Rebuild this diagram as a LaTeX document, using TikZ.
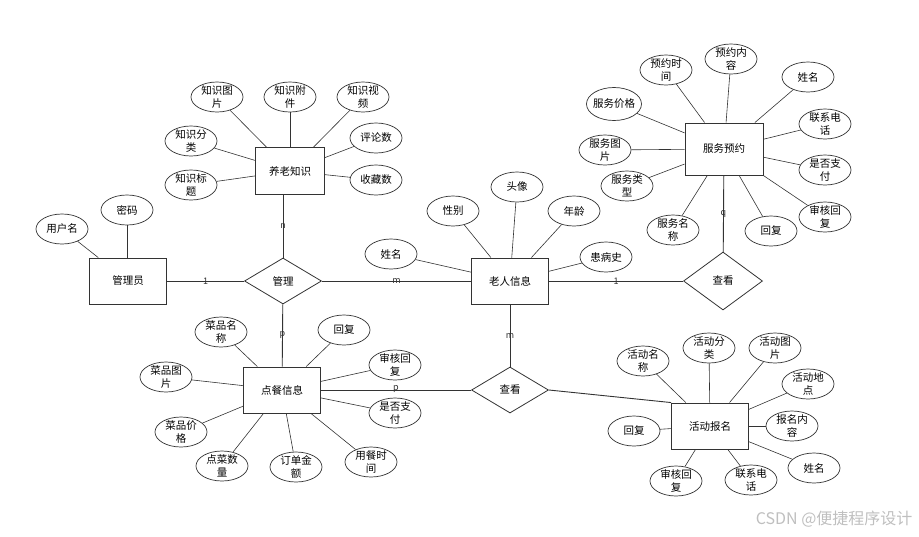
\documentclass[tikz,border=0pt]{standalone}
\usepackage{fontspec}
\setmainfont{Noto Sans CJK SC}
\usetikzlibrary{shapes.geometric}

\begin{document}
\begin{tikzpicture}[x=1pt, y=-1pt,
    font=\fontsize{10.5}{13}\selectfont,
    entity/.style={draw=black!80, line width=0.9pt, rectangle, minimum width=77pt, minimum height=46pt, inner sep=0pt},
    rel/.style={draw=black!80, line width=0.8pt, diamond, minimum width=77pt, minimum height=46pt, inner sep=0pt},
    attr/.style={draw=black!80, line width=0.7pt, ellipse, minimum width=52pt, minimum height=30pt, inner xsep=-6pt, inner ysep=-5pt, align=center},
    link/.style={black!80, line width=0.9pt},
    tie/.style={black!80, line width=0.6pt},
    card/.style={font=\fontsize{9}{10}\selectfont, inner sep=1pt}]
    \useasboundingbox (0,0) rectangle (919,536);

    % entities and relations
    \node[entity] (admin) at (128,281) {管理员};
    \node[entity, minimum width=69pt, minimum height=47pt] (know) at (290,171) {养老知识};
    \node[entity] (elder) at (510,281) {老人信息};
    \node[entity, minimum width=78pt, minimum height=52pt] (serv) at (724,149) {服务预约};
    \node[entity] (order) at (282,390) {点餐信息};
    \node[entity] (act) at (710,426) {活动报名};
    \node[rel] (mgmt) at (283,281) {管理};
    \node[rel, minimum width=79pt, minimum height=58pt] (look1) at (723,281) {查看};
    \node[rel] (look2) at (510,390) {查看};

    % attributes
    \node[attr] (a1) at (62,229) {用户名};
    \node[attr] (a2) at (127,210) {密码};

    \node[attr] (k1) at (217,97) {知识图\\片};
    \node[attr] (k2) at (290,97) {知识附\\件};
    \node[attr] (k3) at (363,97) {知识视\\频};
    \node[attr] (k4) at (191,141) {知识分\\类};
    \node[attr] (k5) at (191,185) {知识标\\题};
    \node[attr] (k6) at (376,138) {评论数};
    \node[attr] (k7) at (376,180) {收藏数};

    \node[attr] (e1) at (391,254) {姓名};
    \node[attr] (e2) at (453,211) {性别};
    \node[attr] (e3) at (517,187) {头像};
    \node[attr] (e4) at (574,211) {年龄};
    \node[attr] (e5) at (606,257) {患病史};

    \node[attr] (s1) at (666,70) {预约时\\间};
    \node[attr] (s2) at (731,59) {预约内\\容};
    \node[attr] (s3) at (808,77) {姓名};
    \node[attr, minimum width=55pt, minimum height=33pt] (s4) at (614,104) {服务价格};
    \node[attr] (s5) at (825,124) {联系电\\话};
    \node[attr] (s6) at (605,150) {服务图\\片};
    \node[attr] (s7) at (825,170) {是否支\\付};
    \node[attr] (s8) at (627,186) {服务类\\型};
    \node[attr] (s9) at (673,230) {服务名\\称};
    \node[attr] (s10) at (771,231) {回复};
    \node[attr] (s11) at (825,217) {审核回\\复};

    \node[attr] (o1) at (221,332) {菜品名\\称};
    \node[attr] (o2) at (344,330) {回复};
    \node[attr] (o3) at (395,365) {审核回\\复};
    \node[attr] (o4) at (166,377) {菜品图\\片};
    \node[attr] (o5) at (395,413) {是否支\\付};
    \node[attr] (o6) at (181,432) {菜品价\\格};
    \node[attr] (o7) at (222,466) {点菜数\\量};
    \node[attr] (o8) at (296,467) {订单金\\额};
    \node[attr] (o9) at (371,462) {用餐时\\间};

    \node[attr] (h1) at (643,361) {活动名\\称};
    \node[attr] (h2) at (709,348) {活动分\\类};
    \node[attr] (h3) at (775,348) {活动图\\片};
    \node[attr] (h4) at (808,384) {活动地\\点};
    \node[attr] (h5) at (792,426) {报名内\\容};
    \node[attr] (h6) at (634,431) {回复};
    \node[attr] (h7) at (814,468) {姓名};
    \node[attr] (h8) at (676,481) {审核回\\复};
    \node[attr] (h9) at (751,480) {联系电\\话};

    % Draw edges
    \draw[link] (admin) -- node[card] {1} (mgmt);
    \draw[link] (mgmt) -- node[card] {m} (elder);
    \draw[link] (mgmt.north |- know.south) -- node[card] {n} (mgmt.north);
    \draw[link] (mgmt) -- node[card] {p} (order);
    \draw[link] (elder) -- node[card] {1} (look1);
    \draw[link] (serv) -- node[card] {q} (look1);
    \draw[link] (elder) -- node[card] {m} (look2);
    \draw[link] (order) -- node[card, yshift=1pt] {p} (look2);
    \draw[link] (look2.east) -- (act.north west);

    \draw[tie] (admin) -- (a1);
    \draw[tie] (admin.north -| a2) -- (a2);

    \draw[tie] (know) -- (k1);
    \draw[tie] (know) -- (k2);
    \draw[tie] (know) -- (k3);
    \draw[tie] (know) -- (k4);
    \draw[tie] (know) -- (k5);
    \draw[tie] (know) -- (k6);
    \draw[tie] (know) -- (k7);

    \draw[tie] (elder) -- (e1);
    \draw[tie] (elder) -- (e2);
    \draw[tie] (elder) -- (e3);
    \draw[tie] (elder) -- (e4);
    \draw[tie] (elder) -- (e5);

    \draw[tie] (serv) -- (s1);
    \draw[tie] (serv) -- (s2);
    \draw[tie] (serv) -- (s3);
    \draw[tie] (serv) -- (s4);
    \draw[tie] (serv) -- (s5);
    \draw[tie] (serv) -- (s6);
    \draw[tie] (serv) -- (s7);
    \draw[tie] (serv) -- (s8);
    \draw[tie] (serv) -- (s9);
    \draw[tie] (serv) -- (s10);
    \draw[tie] (serv) -- (s11);

    \draw[tie] (order) -- (o1);
    \draw[tie] (order) -- (o2);
    \draw[tie] (order) -- (o3);
    \draw[tie] (order) -- (o4);
    \draw[tie] (order) -- (o5);
    \draw[tie] (order) -- (o6);
    \draw[tie] (order) -- (o7);
    \draw[tie] (order) -- (o8);
    \draw[tie] (order) -- (o9);

    \draw[tie] (act) -- (h1);
    \draw[tie] (act) -- (h2);
    \draw[tie] (act) -- (h3);
    \draw[tie] (act) -- (h4);
    \draw[tie] (act) -- (h5);
    \draw[tie] (act) -- (h6);
    \draw[tie] (act) -- (h7);
    \draw[tie] (act) -- (h8);
    \draw[tie] (act) -- (h9);

    \node[anchor=east, text=black!25, font=\fontsize{16}{18}\selectfont] (mark) at (916,519) {CSDN @便捷程序设计};
\end{tikzpicture}
\end{document}
